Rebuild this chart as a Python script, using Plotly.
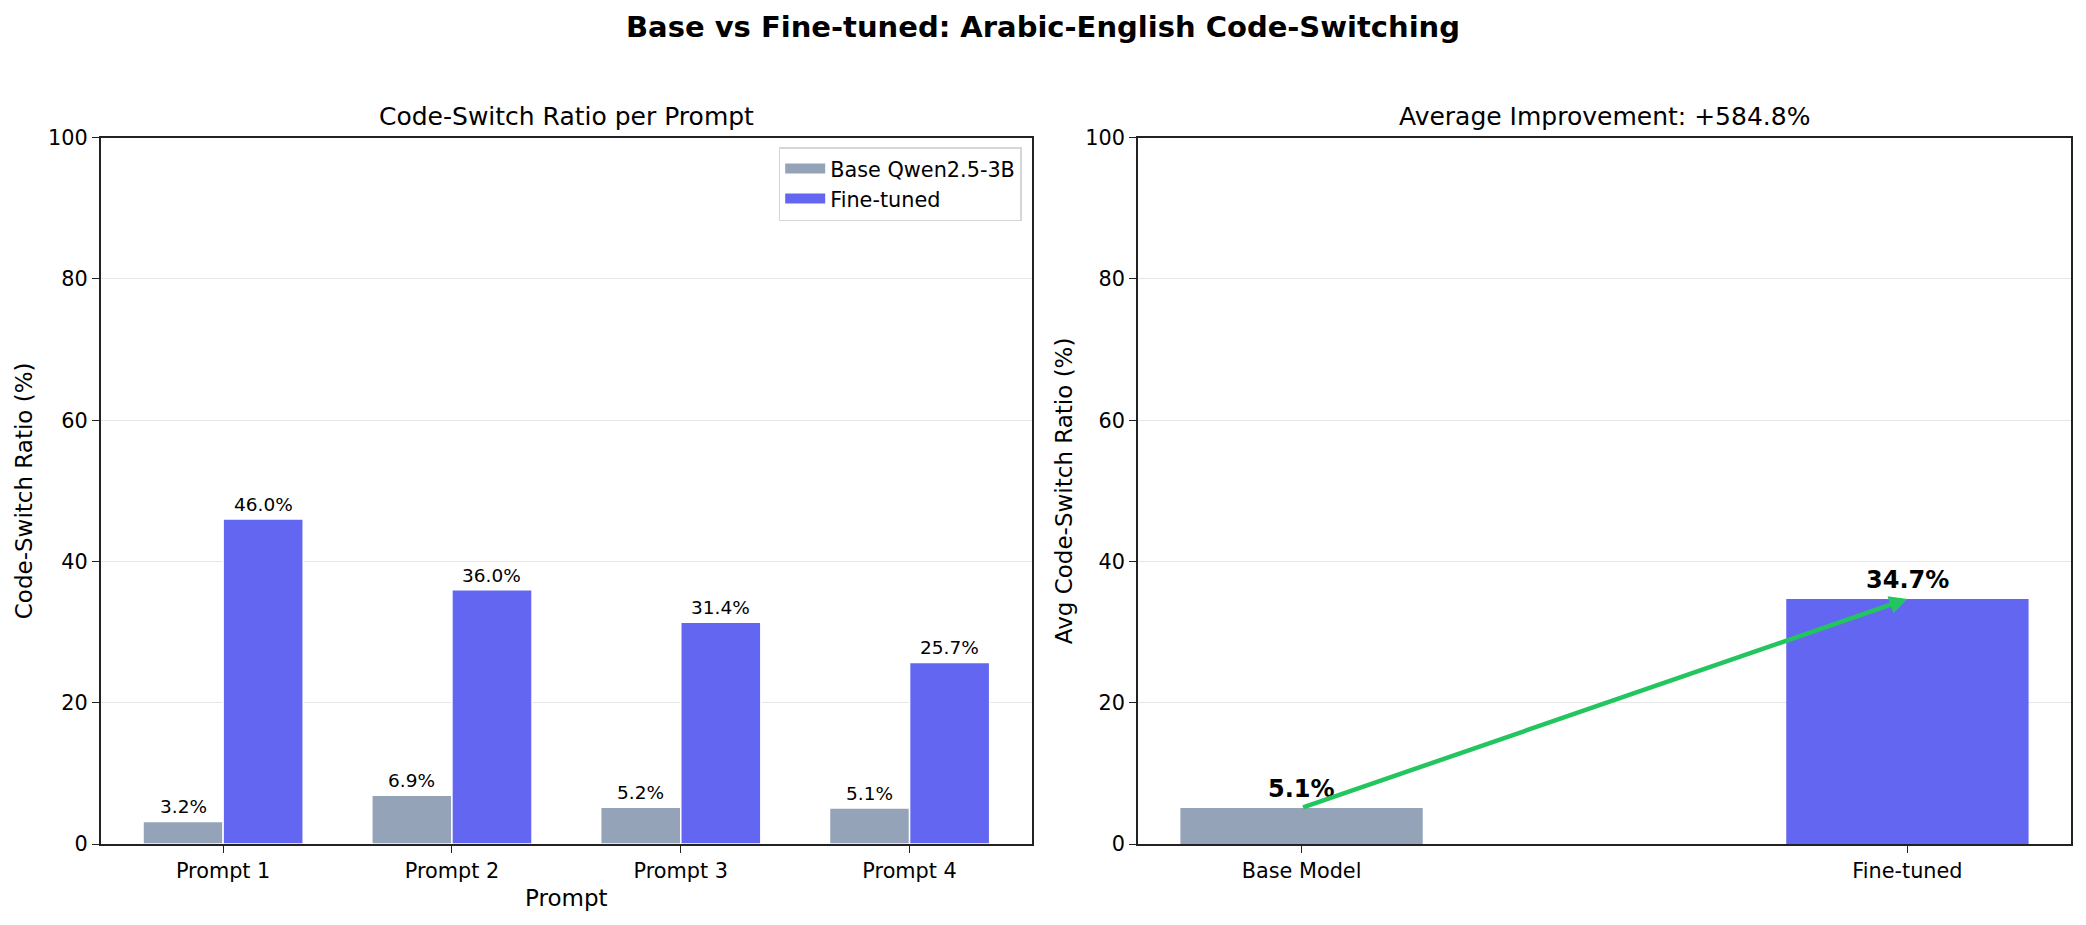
import plotly.graph_objects as go

prompts = ["Prompt 1", "Prompt 2", "Prompt 3", "Prompt 4"]
base_ratio = [3.2, 6.9, 5.2, 5.1]
tuned_ratio = [46.0, 36.0, 31.4, 25.7]

avg_labels = ["Base Model", "Fine-tuned"]
avg_ratio = [5.1, 34.7]
improvement = "+584.8%"

BASE_COLOR = "#94a3b8"
TUNED_COLOR = "#6366f1"
ARROW_COLOR = "#22c55e"
FONT = "DejaVu Sans"
W, H = 2086, 925

pos = list(range(len(prompts)))
bw = 0.35

fig = go.Figure()

fig.add_trace(go.Bar(
    x=pos, y=base_ratio, width=bw, offset=-bw, name="Base Qwen2.5-3B",
    marker=dict(color=BASE_COLOR, line=dict(color="white", width=1.5)),
    xaxis="x", yaxis="y", showlegend=False,
))
fig.add_trace(go.Bar(
    x=pos, y=tuned_ratio, width=bw, offset=0, name="Fine-tuned",
    marker=dict(color=TUNED_COLOR, line=dict(color="white", width=1.5)),
    xaxis="x", yaxis="y", showlegend=False,
))
fig.add_trace(go.Bar(
    x=[0, 1], y=avg_ratio, width=0.4, showlegend=False,
    marker=dict(color=[BASE_COLOR, TUNED_COLOR], line=dict(width=0)),
    xaxis="x2", yaxis="y2",
))

# legend keys drawn as thick line swatches (closer to matplotlib patches)
for name, color in [("Base Qwen2.5-3B", BASE_COLOR), ("Fine-tuned", TUNED_COLOR)]:
    fig.add_trace(go.Scatter(
        x=[None], y=[None], mode="lines", name=name,
        line=dict(color=color, width=13), xaxis="x", yaxis="y",
    ))

annotations = []
for i, v in enumerate(base_ratio):
    annotations.append(dict(x=i - bw / 2, y=v, xref="x", yref="y", text=f"{v:.1f}%",
                            showarrow=False, yanchor="bottom", yshift=2,
                            font=dict(size=18.5, color="black")))
for i, v in enumerate(tuned_ratio):
    annotations.append(dict(x=i + bw / 2, y=v, xref="x", yref="y", text=f"{v:.1f}%",
                            showarrow=False, yanchor="bottom", yshift=2,
                            font=dict(size=18.5, color="black")))
for i, v in enumerate(avg_ratio):
    annotations.append(dict(x=i, y=v, xref="x2", yref="y2", text=f"<b>{v:.1f}%</b>",
                            showarrow=False, yanchor="bottom", yshift=3,
                            font=dict(size=24, color="black")))

# improvement arrow
annotations.append(dict(
    x=1, y=avg_ratio[1], xref="x2", yref="y2",
    ax=0, ay=avg_ratio[0], axref="x2", ayref="y2",
    showarrow=True, arrowhead=2, arrowsize=0.8, arrowwidth=4.5,
    arrowcolor=ARROW_COLOR, text="", standoff=0, startstandoff=0,
))

# titles
annotations += [
    dict(x=0.5, y=1 - 27 / H, xref="paper", yref="paper", showarrow=False,
         text="<b>Base vs Fine-tuned: Arabic-English Code-Switching</b>",
         font=dict(size=29, color="black"), xanchor="center", yanchor="middle"),
    dict(x=(100.7 + 1032) / 2 / W, y=1 - 116 / H, xref="paper", yref="paper",
         showarrow=False, text="Code-Switch Ratio per Prompt",
         font=dict(size=25, color="black"), xanchor="center", yanchor="middle"),
    dict(x=(1138 + 2071) / 2 / W, y=1 - 116 / H, xref="paper", yref="paper",
         showarrow=False, text=f"Average Improvement: {improvement}",
         font=dict(size=25, color="black"), xanchor="center", yanchor="middle"),
]

axis_common = dict(
    showline=True, linecolor="#222222", linewidth=1.6, mirror=True,
    ticks="outside", ticklen=7, tickwidth=1.4, tickcolor="#222222",
    tickfont=dict(size=20.8, color="black"), zeroline=False, automargin=False,
)
yaxis_common = dict(
    axis_common, range=[0, 100], tickvals=[0, 20, 40, 60, 80, 100],
    showgrid=True, gridcolor="#e6e6e6", gridwidth=1,
)

fig.update_layout(
    width=W, height=H,
    margin=dict(l=0, r=0, t=0, b=0, autoexpand=False),
    paper_bgcolor="white", plot_bgcolor="white",
    font=dict(family=FONT, color="black"),
    barmode="overlay",
    xaxis=dict(axis_common, domain=[100.7 / W, 1032 / W], range=[-0.535, 3.535],
               tickvals=pos, ticktext=prompts, showgrid=False, anchor="y",
               title=dict(text="Prompt", font=dict(size=23), standoff=8)),
    yaxis=dict(yaxis_common, domain=[1 - 844 / H, 1 - 137.7 / H], anchor="x",
               title=dict(text="Code-Switch Ratio (%)", font=dict(size=23), standoff=9)),
    xaxis2=dict(axis_common, domain=[1138 / W, 2071 / W], range=[-0.27, 1.27],
                tickvals=[0, 1], ticktext=avg_labels, showgrid=False, anchor="y2"),
    yaxis2=dict(yaxis_common, domain=[1 - 844 / H, 1 - 137.7 / H], anchor="x2",
                title=dict(text="Avg Code-Switch Ratio (%)", font=dict(size=23), standoff=6)),
    legend=dict(x=1021.7 / W, y=1 - 147 / H, xanchor="right", yanchor="top",
                bordercolor="#d6d6d6", borderwidth=1.5, bgcolor="white",
                font=dict(size=20.8, color="black"), itemwidth=40,
                tracegroupgap=2),
    annotations=annotations,
)

fig.write_html("out.html", config={"displayModeBar": False},
               post_script="document.body.style.margin='0';")
